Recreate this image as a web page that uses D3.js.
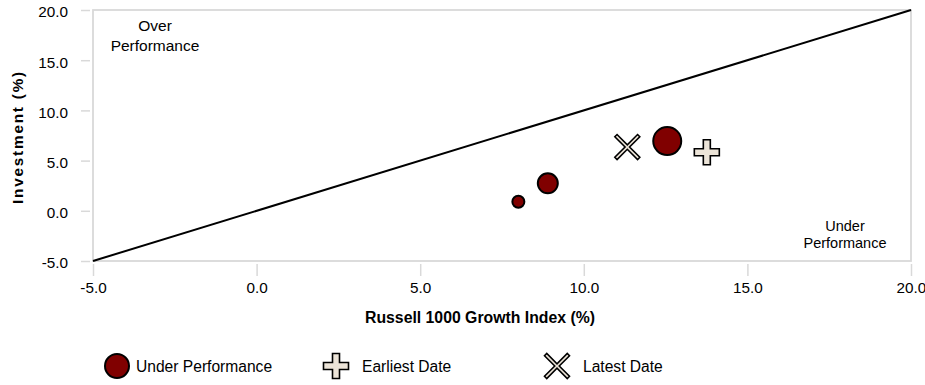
<!DOCTYPE html>
<html><head><meta charset="utf-8">
<script src="https://cdn.jsdelivr.net/npm/d3@7"></script>
<style>body{margin:0;background:#fff}svg{display:block;font-family:"Liberation Sans",Arial,sans-serif}</style>
</head><body><svg id="c" width="925" height="385"></svg>
<script>
const xTicks = [-5, 0, 5, 10, 15, 20];
const yTicks = [-5, 0, 5, 10, 15, 20];
const circleX = [8.0, 8.9, 12.55];
const circleY = [0.9, 2.74, 6.95];
const circleR = [6, 10, 14];
const earliest = [13.76, 5.83];
const latest = [11.33, 6.35];
const legendLabels = ["Under Performance", "Earliest Date", "Latest Date"];

const svg = d3.select("#c");
const x = d3.scaleLinear().domain([-5, 20]).range([93, 911]);
const y = d3.scaleLinear().domain([-5, 20]).range([261, 10]);
const grey = "#d9d9d9";
const fmt = d => d.toFixed(1);

// frame
svg.append("rect").attr("x", 93).attr("y", 10).attr("width", 818).attr("height", 251)
  .attr("fill", "none").attr("stroke", grey).attr("stroke-width", 1.8);

const xa = svg.append("g").attr("transform", "translate(0,264)")
  .call(d3.axisBottom(x).tickValues(xTicks).tickFormat(fmt).tickSize(12).tickPadding(6));
const ya = svg.append("g").attr("transform", "translate(90,0)")
  .call(d3.axisLeft(y).tickValues(yTicks).tickFormat(fmt).tickSize(9).tickPadding(13));
[xa, ya].forEach(a => {
  a.select(".domain").remove();
  a.selectAll("line").attr("stroke", grey).attr("stroke-width", 1.5);
  a.selectAll("text").attr("font-size", 15.3).attr("fill", "#000").attr("font-family", "Liberation Sans, Arial, sans-serif");
});
ya.selectAll("text").attr("dy", "0.45em");

// diagonal
svg.append("line").attr("x1", x(-5)).attr("y1", y(-5)).attr("x2", x(20)).attr("y2", y(20))
  .attr("stroke", "#000").attr("stroke-width", 2);

// annotations
svg.append("text").attr("text-anchor", "middle").attr("font-size", 15.5)
  .selectAll("tspan").data(["Over", "Performance"]).join("tspan")
  .attr("x", 155).attr("y", (d, i) => 31 + i * 20).text(d => d);
svg.append("text").attr("text-anchor", "middle").attr("font-size", 14.5)
  .selectAll("tspan").data(["Under", "Performance"]).join("tspan")
  .attr("x", 845).attr("y", (d, i) => 231 + i * 17).text(d => d);

// axis titles
svg.append("text").attr("x", 480).attr("y", 323).attr("text-anchor", "middle")
  .attr("font-size", 15.8).attr("font-weight", "bold").text("Russell 1000 Growth Index (%)");
svg.append("text").attr("transform", "translate(23,137) rotate(-90)").attr("text-anchor", "middle")
  .attr("font-size", 15.3).attr("font-weight", "bold").attr("letter-spacing", 1.8).text("Investment (%)");

// shapes
function plusPath(s) {
  const a = s * 0.14, b = s / 2;
  return `M${-a},${-b}H${a}V${-a}H${b}V${a}H${a}V${b}H${-a}V${a}H${-b}V${-a}H${-a}Z`;
}
function xPath(s) {
  const b = s / 2, k = s * 0.09;
  return `M${-b},${-b + k}L${-k},0L${-b},${b - k}L${-b + k},${b}L0,${k}L${b - k},${b}L${b},${b - k}L${k},0L${b},${-b + k}L${b - k},${-b}L0,${-k}L${-b + k},${-b}Z`;
}
const shapeFill = "#ece4d8";

svg.append("g").selectAll("circle").data(circleX).join("circle")
  .attr("cx", d => x(d)).attr("cy", (d, i) => y(circleY[i])).attr("r", (d, i) => circleR[i])
  .attr("fill", "#800000").attr("stroke", "#000").attr("stroke-width", 2);

svg.append("path").attr("d", plusPath(25)).attr("transform", `translate(${x(earliest[0])},${y(earliest[1])})`)
  .attr("fill", shapeFill).attr("stroke", "#000").attr("stroke-width", 1.6);
svg.append("path").attr("d", xPath(25)).attr("transform", `translate(${x(latest[0])},${y(latest[1])})`)
  .attr("fill", shapeFill).attr("stroke", "#000").attr("stroke-width", 1.6);

// legend
const lg = svg.append("g");
lg.append("circle").attr("cx", 117).attr("cy", 366).attr("r", 12)
  .attr("fill", "#800000").attr("stroke", "#000").attr("stroke-width", 2);
lg.append("path").attr("d", plusPath(25)).attr("transform", "translate(336,366)")
  .attr("fill", shapeFill).attr("stroke", "#000").attr("stroke-width", 1.6);
lg.append("path").attr("d", xPath(25)).attr("transform", "translate(557,366)")
  .attr("fill", shapeFill).attr("stroke", "#000").attr("stroke-width", 1.6);
const lx = [136, 362, 583];
lg.selectAll("text").data(legendLabels).join("text")
  .attr("x", (d, i) => lx[i]).attr("y", 372).attr("font-size", 15.6).text(d => d);
</script></body></html>
